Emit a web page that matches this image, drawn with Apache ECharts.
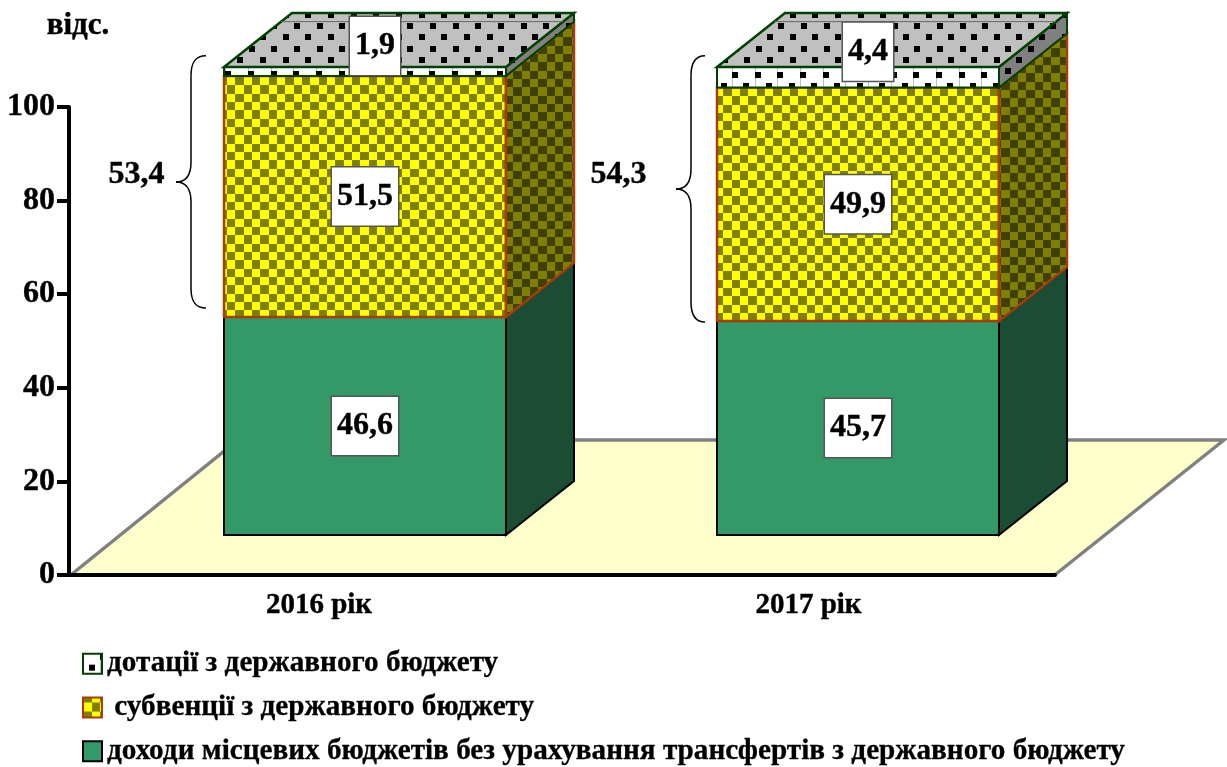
<!DOCTYPE html>
<html><head><meta charset="utf-8">
<style>html,body{margin:0;padding:0;background:#fff}#c{width:1227px;height:767px}</style>
<script src="https://cdn.jsdelivr.net/npm/echarts@6/dist/echarts.min.js"></script>
</head><body><div id="c"></div>
<script>
const categories = ['2016 рік', '2017 рік'];
const ownRevenue = [46.6, 45.7];
const subventions = [51.5, 49.9];
const grants = [1.9, 4.4];
const transferTotals = [53.4, 54.3];
const braceFrom = [48.5, 45.5];
const braceTo = [102.4, 102.4];
const yTicks = { min: 0, max: 100, interval: 20 };
const nameOwn = 'доходи місцевих бюджетів без урахування трансфертів з державного бюджету';
const nameSub = ' субвенції з державного бюджету';
const nameGrant = 'дотації з державного бюджету';
const unit = 'відс.';

const FONT = '"Liberation Serif","Times New Roman",serif';
const FLOOR_DX = 169, FLOOR_DY = 135, LIFT = 40, SHIFT = 49.5, DX = 68, DY = 54, BAR_RATIO = 0.572;
const checkerPhase = [[227, 77], [715, 88]];
const topPhase = [[294, 23], [801, 23]];
const bandPhase = [[248, 71], [732, 72]];
const categoryLabelPad = [7, 0];
const braceX = [{ tip: 176, v: 191, end: 206, label: 136.5 }, { tip: 676, v: 691, end: 705, label: 618.5 }];

function tile(w, h, draw) {
  const c = document.createElement('canvas'); c.width = w; c.height = h;
  draw(c.getContext('2d')); return c;
}
function checker(a, b) {
  const edges = [0, 8, 17, 25, 33, 42, 50];
  return tile(50, 50, g => {
    for (let j = 0; j < 6; j++) for (let i = 0; i < 6; i++) {
      g.fillStyle = (i + j) % 2 ? b : a;
      g.fillRect(edges[i], edges[j], edges[i + 1] - edges[i], edges[j + 1] - edges[j]);
    }
  });
}
function dots(bg, lineColor) {
  return tile(68, 68, g => {
    g.fillStyle = bg; g.fillRect(0, 0, 68, 68);
    if (lineColor) {
      g.fillStyle = lineColor;
      [0, 23, 45].forEach(x => g.fillRect(x, 0, 1, 68));
    }
    g.fillStyle = '#000';
    const p = 68 / 3, r = p / 2;
    for (let j = 0; j < 6; j++) for (let i = 0; i < 3; i++) {
      g.fillRect(Math.round(i * p + (j % 2 ? r : 0)), Math.round(j * r), 6, 6);
    }
  });
}
const imgFront = checker('#ffff00', '#808000');
const imgSide = checker('#808000', '#404000');
const imgTop = dots('#c0c0c0');
const imgTopSide = dots('#808080');
const imgBand = dots('#ffffff', '#bdbdbd');
const pat = (image, x, y) => ({ image, repeat: 'repeat', x, y });

function valueLabel(text, x, y) {
  return {
    type: 'text', x, y, z2: 100,
    style: {
      text, fill: '#000', stroke: '#000', lineWidth: 0.4, font: 'bold 32px ' + FONT, align: 'center', verticalAlign: 'middle',
      backgroundColor: '#fff', borderColor: '#555', borderWidth: 1.5, padding: [18, 5, 8, 5]
    }
  };
}
const fmt = v => String(v).replace('.', ',');

function barGeometry(api, i, base, top) {
  const w = api.size([1, 0])[0] * BAR_RATIO;
  const cx = api.coord([i, 0])[0] + SHIFT;
  return { l: cx - w / 2, r: cx + w / 2, cx, y0: api.coord([i, base])[1] - LIFT, y1: api.coord([i, top])[1] - LIFT };
}
function poly(points, fill, stroke, lw) {
  return { type: 'polygon', shape: { points }, style: { fill, stroke, lineWidth: lw, lineJoin: 'miter' } };
}
function renderOwn(params, api) {
  const i = api.value(0), g = barGeometry(api, i, api.value(1), api.value(2));
  return { type: 'group', children: [
    poly([[g.l, g.y0], [g.r, g.y0], [g.r, g.y1], [g.l, g.y1]], '#339966', '#000', 2),
    poly([[g.r, g.y0], [g.r + DX, g.y0 - DY], [g.r + DX, g.y1 - DY], [g.r, g.y1]], '#1a4d33', '#000', 2),
    valueLabel(fmt(api.value(3)), g.cx, (g.y0 + g.y1) / 2)
  ] };
}
function renderSub(params, api) {
  const i = api.value(0), g = barGeometry(api, i, api.value(1), api.value(2));
  const [px, py] = checkerPhase[i];
  return { type: 'group', children: [
    poly([[g.l, g.y0], [g.r, g.y0], [g.r, g.y1], [g.l, g.y1]], pat(imgFront, px, py), '#a83c0c', 2.5),
    poly([[g.r, g.y0], [g.r + DX, g.y0 - DY], [g.r + DX, g.y1 - DY], [g.r, g.y1]], pat(imgSide, px + 3, py + 2), '#a83c0c', 2.5),
    valueLabel(fmt(api.value(3)), g.cx, (g.y0 + g.y1) / 2)
  ] };
}
function renderGrant(params, api) {
  const i = api.value(0), g = barGeometry(api, i, api.value(1), api.value(2));
  const [tx, ty] = topPhase[i], [bx, by] = bandPhase[i];
  const D = '#004000', m = 0.84;
  return { type: 'group', children: [
    poly([[g.l, g.y0], [g.r, g.y0], [g.r, g.y1], [g.l, g.y1]], pat(imgBand, bx, by), D, 2),
    poly([[g.r, g.y0], [g.r + DX, g.y0 - DY], [g.r + DX, g.y1 - DY], [g.r, g.y1]], pat(imgTopSide, tx, ty), D, 2),
    poly([[g.l, g.y1], [g.r, g.y1], [g.r + DX, g.y1 - DY], [g.l + DX, g.y1 - DY]], pat(imgTop, tx, ty), D, 2.5),
    { type: 'line', shape: { x1: g.l + DX * m, y1: g.y1 - DY * m, x2: g.r + DX * m, y2: g.y1 - DY * m }, style: { stroke: '#666', lineWidth: 1 } },
    valueLabel(fmt(api.value(3)), g.cx + 10, (g.y0 + g.y1) / 2 - 25.5)
  ] };
}
function renderFloor(params) {
  const s = params.coordSys, b = s.y + s.height, r = s.x + s.width, t = b - FLOOR_DY;
  return { type: 'group', children: [
    { type: 'polygon', shape: { points: [[s.x + 3, b], [r, b], [r + FLOOR_DX, t], [s.x + FLOOR_DX, t]] }, style: { fill: '#ffffcc' } },
    { type: 'polyline', shape: { points: [[s.x + 3, b - 1], [s.x + FLOOR_DX, t], [r + FLOOR_DX, t], [r + 1, b - 1]] }, style: { fill: 'none', stroke: '#808080', lineWidth: 3.5, lineJoin: 'miter' } }
  ] };
}
function renderBrace(params, api) {
  const i = api.value(0), p = braceX[i];
  const bot = api.coord([i, api.value(1)])[1] - LIFT, top = api.coord([i, api.value(2)])[1] - LIFT, mid = (top + bot) / 2;
  const st = { stroke: '#000', lineWidth: 1.5, fill: 'none' };
  const curve = (x1, y1, cpx1, cpy1, cpx2, cpy2, x2, y2) => ({ type: 'bezierCurve', shape: { x1, y1, cpx1, cpy1, cpx2, cpy2, x2, y2 }, style: st });
  const v = p.v, k = 20;
  return { type: 'group', children: [
    curve(p.end, top, v + 4, top, v, top + 7, v, top + k),
    { type: 'line', shape: { x1: v, y1: top + k, x2: v, y2: mid - k }, style: st },
    curve(v, mid - k, v, mid - 6, v - 5, mid, p.tip, mid),
    curve(p.tip, mid, v - 5, mid, v, mid + 6, v, mid + k),
    { type: 'line', shape: { x1: v, y1: mid + k, x2: v, y2: bot - k }, style: st },
    curve(v, bot - k, v, bot - 7, v + 4, bot, p.end, bot),
    { type: 'text', x: p.label, y: 175, style: { text: fmt(api.value(3)), fill: '#000', stroke: '#000', lineWidth: 0.4, font: 'bold 32px ' + FONT, align: 'center', verticalAlign: 'middle' } }
  ] };
}

const rowsOwn = categories.map((_, i) => [i, 0, ownRevenue[i], ownRevenue[i]]);
const rowsSub = categories.map((_, i) => [i, ownRevenue[i], ownRevenue[i] + subventions[i], subventions[i]]);
const rowsGrant = categories.map((_, i) => [i, ownRevenue[i] + subventions[i], ownRevenue[i] + subventions[i] + grants[i], grants[i]]);
const rowsBrace = categories.map((_, i) => [i, braceFrom[i], braceTo[i], transferTotals[i]]);

const chart = echarts.init(document.getElementById('c'), null, { renderer: 'canvas' });
const bold = { color: '#000', fontFamily: FONT, fontWeight: 'bold', textBorderColor: '#000', textBorderWidth: 0.4 };
chart.setOption({
  animation: false,
  backgroundColor: '#fff',
  grid: { left: 69, top: 107, width: 986, height: 468 },
  xAxis: {
    type: 'category', z: 5,
    data: categories.map((value, i) => ({ value, textStyle: { padding: [0, 0, 0, categoryLabelPad[i]] } })),
    axisLine: { lineStyle: { color: '#000', width: 4 } },
    axisTick: { show: false },
    axisLabel: { ...bold, fontSize: 29, margin: 16 }
  },
  yAxis: {
    type: 'value', ...yTicks, z: 5,
    name: unit, nameLocation: 'end', nameGap: 66,
    nameTextStyle: { ...bold, fontSize: 31, padding: [0, 0, 0, 18] },
    splitLine: { show: false },
    axisLine: { show: true, lineStyle: { color: '#000', width: 4 } },
    axisTick: { show: true, length: 12, lineStyle: { color: '#000', width: 4 } },
    axisLabel: { ...bold, fontSize: 32, margin: 14, padding: [12, 0, 0, 0] }
  },
  legend: {
    orient: 'vertical', left: 82, top: 649, height: 150, padding: 0, itemWidth: 19, itemHeight: 20, itemGap: 14.5, selectedMode: false,
    textStyle: { ...bold, fontSize: 29.2, textBorderWidth: 0.3 },
    data: [
      { name: nameGrant, icon: 'rect', itemStyle: { color: pat(imgBand, 85, 657), borderColor: '#004000', borderWidth: 2 } },
      { name: nameSub, icon: 'rect', itemStyle: { color: pat(imgFront, 92, 697), borderColor: '#a83c0c', borderWidth: 2 } },
      { name: nameOwn, icon: 'rect', itemStyle: { color: '#339966', borderColor: '#000', borderWidth: 2 } }
    ]
  },
  series: [
    { type: 'custom', name: 'floor', data: [[0]], renderItem: renderFloor, silent: true, z: 1 },
    { type: 'custom', name: nameOwn, data: rowsOwn, renderItem: renderOwn, silent: true, z: 2 },
    { type: 'custom', name: nameSub, data: rowsSub, renderItem: renderSub, silent: true, z: 2 },
    { type: 'custom', name: nameGrant, data: rowsGrant, renderItem: renderGrant, silent: true, z: 2 },
    { type: 'custom', name: 'braces', data: rowsBrace, renderItem: renderBrace, silent: true, z: 2 }
  ]
});
</script></body></html>
